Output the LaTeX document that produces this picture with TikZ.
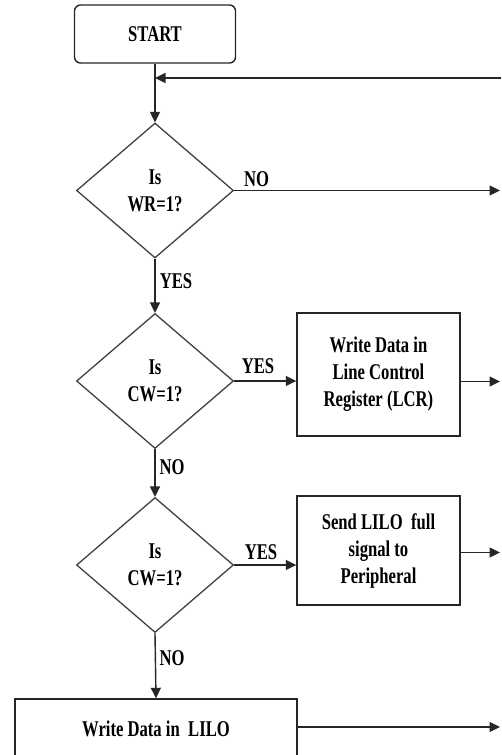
\documentclass[tikz,border=0pt]{standalone}
\usepackage{fontspec}
\setmainfont{Liberation Serif}[FakeStretch=0.74]
\usetikzlibrary{shapes.geometric,arrows.meta}
\begin{document}
\begin{tikzpicture}[x=1pt,y=-1pt,
  every node/.style={font=\bfseries\fontsize{22.5}{27}\selectfont, text=black},
  flowline/.style={line width=1.4pt, draw=black!85},
  arrowline/.style={flowline, -{Triangle[length=10.5pt,width=10pt]}},
  startbox/.style={draw=black!85, line width=1.4pt, rounded corners=6pt,
    minimum width=161pt, minimum height=58pt, inner sep=0pt},
  decision/.style={diamond, draw=black!75, line width=1.3pt, aspect=1.16,
    minimum width=157pt, minimum height=135pt, inner sep=0pt, align=center},
  process/.style={rectangle, draw=black!85, line width=1.4pt, align=center, inner sep=0pt},
  edgelabel/.style={inner sep=0pt}
]
\useasboundingbox (0,0) rectangle (501,755);
\clip (0,0) rectangle (501,755);

% main column
\node[startbox] (start) at (155,34) {START};
\node[decision] (d1) at (155,190.5) {Is\\WR=1?};
\node[decision] (d2) at (155,381) {Is\\CW=1?};
\node[decision] (d3) at (155,565) {Is\\CW=1?};
\node[process, minimum width=282pt, minimum height=60pt] (lilo) at (156,729) {Write Data in~ LILO};

% side actions
\node[process, minimum width=163pt, minimum height=123pt] (lcr) at (378.5,374.5)
  {Write Data in\\Line Control\\Register (LCR)};
\node[process, minimum width=163pt, minimum height=109pt] (full) at (378.5,550.5)
  {Send LILO~ full\\signal to\\Peripheral};

% loose ends at the right margin
\coordinate (loopin) at (501,78);
\coordinate (out1) at (500,190.5);
\coordinate (out2) at (500,381.5);
\coordinate (out3) at (500,552.5);
\coordinate (out4) at (500,727);

% connectors
\draw[arrowline] (start.south) -- (d1.north);
\draw[arrowline] (loopin) -- (loopin -| start.south);
\draw[arrowline] (d1.east) -- (out1);
\draw[arrowline] (d1.south) -- (d2.north);
\draw[arrowline] (d2.east) -- (d2.east -| lcr.west);
\draw[arrowline] (lcr.east |- out2) -- (out2);
\draw[arrowline] (d2.south) -- (d3.north);
\draw[arrowline] (d3.east) -- (d3.east -| full.west);
\draw[arrowline] (full.east |- out3) -- (out3);
\draw[arrowline] (d3.south) -- (lilo.north);
\draw[arrowline] (lilo.east |- out4) -- (out4);

% branch labels
\node[edgelabel] (no1) at (256.5,179) {NO};
\node[edgelabel] (yes1) at (176,281) {YES};
\node[edgelabel] (yes2) at (258,366.5) {YES};
\node[edgelabel] (no2) at (172,467) {NO};
\node[edgelabel] (yes3) at (261,552.5) {YES};
\node[edgelabel] (no3) at (172,658) {NO};
\end{tikzpicture}
\end{document}
